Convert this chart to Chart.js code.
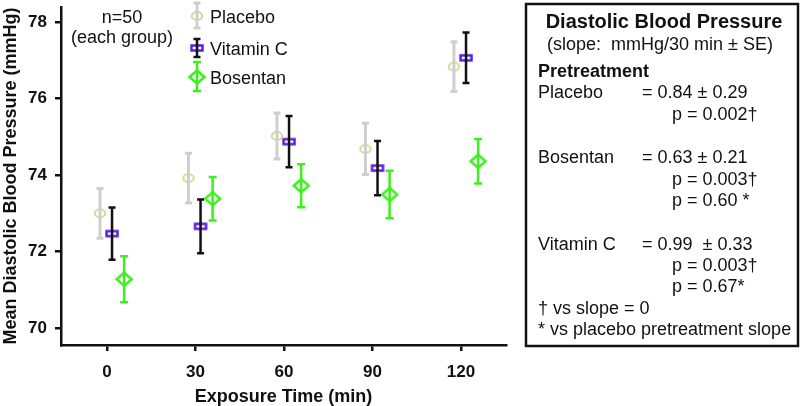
<!DOCTYPE html>
<html>
<head>
<meta charset="utf-8">
<script src="https://cdn.jsdelivr.net/npm/chart.js@4.4.1/dist/chart.umd.min.js"></script>
<style>
  html, body { margin: 0; padding: 0; background: #fff; }
  #wrap { width: 800px; height: 406px; position: relative; }
</style>
</head>
<body>
<div id="wrap"><canvas id="bp"></canvas></div>
<script>
// exposure times (min) and tick labels
const times = [0, 30, 60, 90, 120];
const xTicks = [0, 30, 60, 90, 120];
const yTicks = [70, 72, 74, 76, 78];

// group means and standard errors (mmHg)
const placeboMean = [73.0, 73.92, 75.02, 74.68, 76.83];
const placeboSE   = [0.65, 0.65, 0.60, 0.67, 0.65];
const vitCMean    = [72.47, 72.66, 74.87, 74.18, 77.06];
const vitCSE      = [0.68, 0.70, 0.67, 0.71, 0.66];
const bosMean     = [71.28, 73.38, 73.72, 73.49, 74.36];
const bosSE       = [0.60, 0.57, 0.56, 0.62, 0.58];

const seriesNames = ['Placebo', 'Vitamin C', 'Bosentan'];

const FONT = '"Liberation Sans", Arial, Helvetica, sans-serif';

// hollow marker images (slightly wider than tall, like the original)
function marker(shape, w, h, color, lw) {
  const c = document.createElement('canvas');
  c.width = w + lw * 2 + 2;
  c.height = h + lw * 2 + 2;
  const g = c.getContext('2d');
  const cx = c.width / 2, cy = c.height / 2;
  g.strokeStyle = color;
  g.fillStyle = '#fff';
  g.lineWidth = lw;
  g.beginPath();
  if (shape === 'circle') {
    g.ellipse(cx, cy, w / 2, h / 2, 0, 0, Math.PI * 2);
  } else if (shape === 'rect') {
    g.rect(cx - w / 2, cy - h / 2, w, h);
  } else {
    g.moveTo(cx - w / 2, cy);
    g.lineTo(cx, cy - h / 2);
    g.lineTo(cx + w / 2, cy);
    g.lineTo(cx, cy + h / 2);
    g.closePath();
  }
  g.fill();
  g.stroke();
  return c;
}

const placeboImg = marker('circle', 10.5, 8, '#d2db95', 2);
const vitCImg = marker('rect', 11, 5, '#5a20d8', 2.5);
const bosImg = marker('diamond', 15, 13, '#3def1c', 2.5);

function pts(means, shift) {
  return times.map((t, i) => ({ x: t + shift, y: means[i] }));
}

const datasets = [
  { label: seriesNames[0], data: pts(placeboMean, -2.4), se: placeboSE,
    pointStyle: placeboImg, errColor: '#cfcfcf', errWidth: 3, capHalf: 3.5 },
  { label: seriesNames[1], data: pts(vitCMean, 1.7), se: vitCSE,
    pointStyle: vitCImg, errColor: '#111111', errWidth: 2.5, capHalf: 3.5 },
  { label: seriesNames[2], data: pts(bosMean, 5.8), se: bosSE,
    pointStyle: bosImg, errColor: '#3def1c', errWidth: 2.5, capHalf: 4 }
];

function drawBar(ctx, x, yTop, yBot, ds) {
  ctx.save();
  ctx.strokeStyle = ds.errColor;
  ctx.lineWidth = ds.errWidth;
  ctx.lineCap = 'butt';
  ctx.beginPath();
  ctx.moveTo(x, yTop); ctx.lineTo(x, yBot);
  ctx.moveTo(x - ds.capHalf, yTop); ctx.lineTo(x + ds.capHalf, yTop);
  ctx.moveTo(x - ds.capHalf, yBot); ctx.lineTo(x + ds.capHalf, yBot);
  ctx.stroke();
  ctx.restore();
}

// error bars on top of the markers
const errorBars = {
  id: 'errorBars',
  afterDatasetsDraw(chart) {
    const ctx = chart.ctx;
    const ys = chart.scales.y;
    chart.data.datasets.forEach((ds, di) => {
      const meta = chart.getDatasetMeta(di);
      meta.data.forEach((el, i) => {
        const v = ds.data[i].y;
        drawBar(ctx, el.x, ys.getPixelForValue(v + ds.se[i]), ys.getPixelForValue(v - ds.se[i]), ds);
      });
    });
  }
};

// legend, sample size note and slope summary box
const annotations = {
  id: 'annotations',
  afterDraw(chart) {
    const ctx = chart.ctx;
    ctx.save();
    ctx.fillStyle = '#111';
    ctx.textBaseline = 'alphabetic';

    ctx.font = '18px ' + FONT;
    ctx.textAlign = 'center';
    ctx.fillText('n=50', 122, 23);
    ctx.fillText('(each group)', 122, 43);

    // legend
    const rows = [
      { y: 16, top: 3, bot: 28 },
      { y: 48, top: 39, bot: 57 },
      { y: 77, top: 62, bot: 91 }
    ];
    ctx.textAlign = 'left';
    chart.data.datasets.forEach((ds, i) => {
      const r = rows[i];
      const img = ds.pointStyle;
      ctx.drawImage(img, 197 - img.width / 2, r.y - img.height / 2);
      drawBar(ctx, 197, r.top, r.bot, ds);
      ctx.fillStyle = '#111';
      ctx.font = '18px ' + FONT;
      ctx.fillText(ds.label, 210, r.y + 7);
    });

    // summary box
    ctx.strokeStyle = '#111';
    ctx.lineWidth = 2.5;
    ctx.strokeRect(526, 4, 272, 342);

    ctx.textAlign = 'center';
    ctx.font = 'bold 20px ' + FONT;
    ctx.fillText('Diastolic Blood Pressure', 664, 28);
    ctx.font = '18px ' + FONT;
    ctx.fillText('(slope:  mmHg/30 min \u00b1 SE)', 660, 50);

    ctx.textAlign = 'left';
    ctx.font = 'bold 18px ' + FONT;
    ctx.fillText('Pretreatment', 538, 77);
    ctx.font = '18px ' + FONT;
    const lines = [
      [538, 98, 'Placebo'], [642, 98, '= 0.84 \u00b1 0.29'], [672, 120, 'p = 0.002\u2020'],
      [538, 163, 'Bosentan'], [642, 163, '= 0.63 \u00b1 0.21'], [672, 185, 'p = 0.003\u2020'],
      [672, 206, 'p = 0.60 *'],
      [538, 250, 'Vitamin C'], [642, 250, '= 0.99  \u00b1 0.33'], [672, 271, 'p = 0.003\u2020'],
      [672, 292, 'p = 0.67*'],
      [538, 314, '\u2020 vs slope = 0'], [538, 335, '* vs placebo pretreatment slope']
    ];
    lines.forEach(l => ctx.fillText(l[2], l[0], l[1]));
    ctx.restore();
  }
};

new Chart(document.getElementById('bp').getContext('2d'), {
  type: 'scatter',
  data: { datasets: datasets },
  options: {
    responsive: true,
    maintainAspectRatio: false,
    animation: false,
    layout: { padding: { left: 0, right: 294, top: 3, bottom: 0 } },
    plugins: {
      legend: { display: false },
      tooltip: { enabled: false }
    },
    elements: { point: { radius: 6, hoverRadius: 6 } },
    scales: {
      x: {
        type: 'linear',
        min: -15.6,
        max: 135.25,
        afterBuildTicks: (s) => { s.ticks = xTicks.map(v => ({ value: v })); },
        afterFit: (s) => { s.paddingLeft = 0; s.paddingRight = 0; },
        border: { display: true, color: '#111', width: 2.5 },
        grid: { display: true, drawOnChartArea: false, drawTicks: true, tickLength: 6, color: '#111', lineWidth: 2.5 },
        ticks: { color: '#111', padding: 11, font: { family: FONT, size: 17, weight: 'bold' } },
        title: { display: true, text: 'Exposure Time (min)', color: '#111',
                 font: { family: FONT, size: 18, weight: 'bold' }, padding: { top: -7, bottom: -2 } }
      },
      y: {
        min: 69.561,
        max: 78.387,
        afterBuildTicks: (s) => { s.ticks = yTicks.map(v => ({ value: v })); },
        afterFit: (s) => { s.paddingTop = 0; s.paddingBottom = 0; },
        border: { display: true, color: '#111', width: 2.5 },
        grid: { display: true, drawOnChartArea: false, drawTicks: true, tickLength: 6, color: '#111', lineWidth: 2.5 },
        ticks: { color: '#111', padding: 8, font: { family: FONT, size: 17, weight: 'bold' } },
        title: { display: true, text: 'Mean Diastolic Blood Pressure (mmHg)', color: '#111',
                 font: { family: FONT, size: 18, weight: 'bold' }, padding: { top: 0, bottom: -1.5 } }
      }
    }
  },
  plugins: [errorBars, annotations]
});
</script>
</body>
</html>
